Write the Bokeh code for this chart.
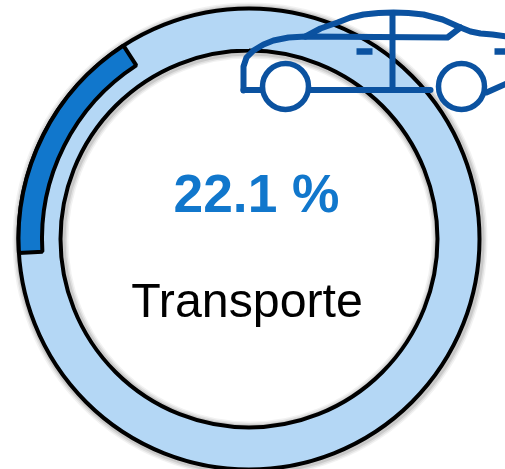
from bokeh.plotting import figure
from bokeh.embed import file_html
from bokeh.resources import INLINE
from bokeh.core.properties import value
from bokeh.models import Range1d
import math

W, H = 505, 469
# gauge
center = [248.5, 238.5]
r_outer, r_inner = 230.5, 188.5
arc_r_outer, arc_r_inner = 230.5, 207.0
arc_start_deg, arc_end_deg = 33.0, 93.5   # counter-clockwise from 12 o'clock
value_label = "22.1 %"
name_label = "Transporte"
LIGHT, DARK, CAR = "#B4D7F5", "#1177CC", "#0B52A0"

# car icon polylines (page pixels)
car_body_x = [243, 243, 246, 253, 263, 273, 288, 305, 447, 460]
car_body_y = [90, 66, 57, 50, 44, 40, 37, 36, 37, 27]
car_roof_x = [305, 320, 337, 350, 363, 378, 393, 408, 423, 442, 460, 470, 480, 492, 506]
car_roof_y = [36, 28, 22, 17, 14, 12.5, 12, 12.5, 14, 19, 27, 31, 33, 34, 36]
car_post_x = [392, 392]
car_post_y = [13, 89]
car_base_x = [243, 430]
car_base_y = [89.5, 89.5]
car_nose_x = [486, 506]
car_nose_y = [92, 83]
wheel_x = [285, 461]
wheel_y = [86, 86]
wheel_r = 23.0
handle_x = [[356, 372], [494, 506]]
handle_y = [[51, 51], [51, 51]]

p = figure(width=W, height=H, x_range=Range1d(0, W), y_range=Range1d(H, 0),
           output_backend="svg", toolbar_location=None, min_border=0,
           outline_line_color=None, background_fill_color="white")
p.axis.visible = False
p.grid.visible = False

cx, cy = center
# soft shadows
for w, a in [(14, 0.05), (11, 0.07), (8, 0.10)]:
    for r in (r_outer, r_inner):
        p.circle(x=[cx + 1], y=[cy + 1], radius=r, fill_color=None,
                 line_color="black", line_alpha=a, line_width=w)

# ring
p.annular_wedge(x=[cx], y=[cy], inner_radius=r_inner, outer_radius=r_outer,
                start_angle=0, end_angle=2 * math.pi,
                fill_color=LIGHT, line_color=None)
for r in (r_outer, r_inner):
    p.circle(x=[cx], y=[cy], radius=r, fill_color=None, line_color="black", line_width=4)

# value arc
a0 = math.radians(90 + arc_start_deg)
a1 = math.radians(90 + arc_end_deg)
p.annular_wedge(x=[cx], y=[cy], inner_radius=arc_r_inner, outer_radius=arc_r_outer,
                start_angle=a0, end_angle=a1, direction="anticlock",
                fill_color=DARK, line_color="black", line_width=4)

# texts
p.text(x=[256], y=[193], text=[value_label], text_font=value("Liberation Sans"),
       text_font_size="53.3px", text_font_style="bold", text_color=DARK,
       text_align="center", text_baseline="alphabetic")
p.text(x=[246.5], y=[299], text=[name_label], text_font=value("Liberation Sans"),
       text_font_size="48.3px", text_color="black",
       text_align="center", text_baseline="alphabetic")

# car
for xs, ys in [(car_body_x, car_body_y), (car_roof_x, car_roof_y), (car_post_x, car_post_y),
               (car_base_x, car_base_y), (car_nose_x, car_nose_y)]:
    p.line(xs, ys, line_color=CAR, line_width=6, line_join="round", line_cap="round")
p.multi_line(handle_x, handle_y, line_color=CAR, line_width=6.5)
p.circle(x=wheel_x, y=wheel_y, radius=wheel_r, fill_color="white", line_color=CAR, line_width=5.5)

open("out.html", "w").write(file_html(p, INLINE))
